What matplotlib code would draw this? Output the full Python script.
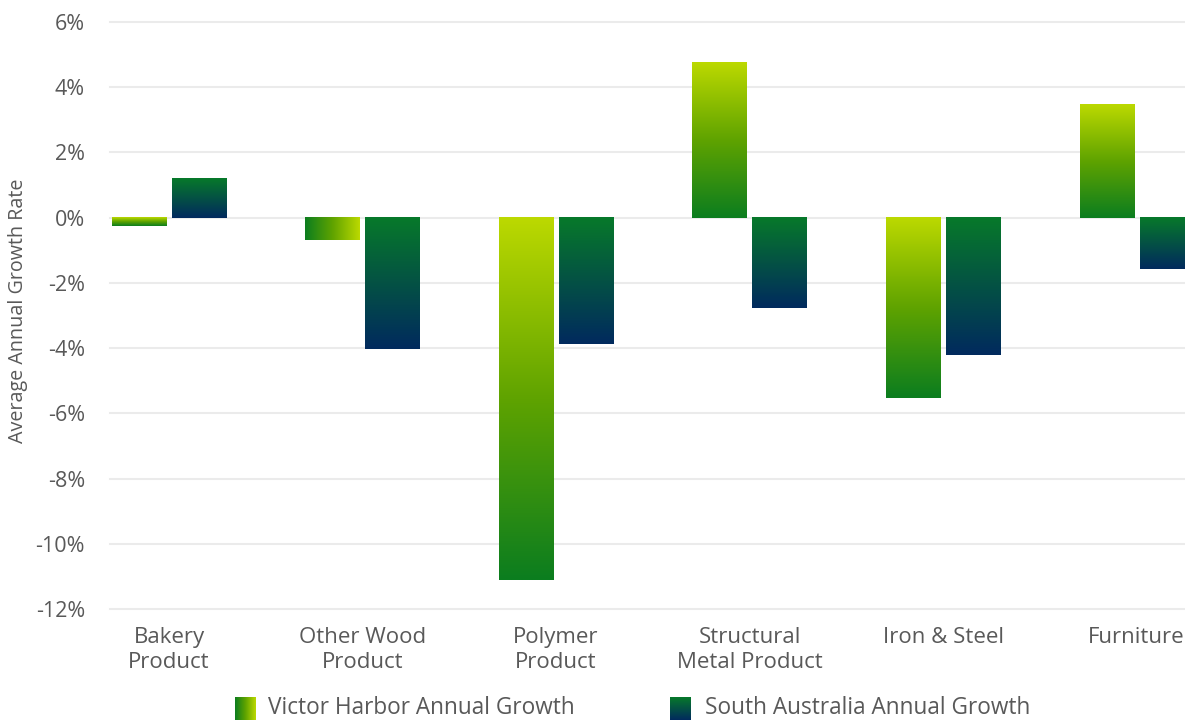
import numpy as np
import matplotlib
matplotlib.use("Agg")
import matplotlib.pyplot as plt
from matplotlib.colors import LinearSegmentedColormap

plt.rcParams['font.family'] = ['Open Sans', 'DejaVu Sans']

categories = ["Bakery\nProduct", "Other Wood\nProduct", "Polymer\nProduct",
              "Structural\nMetal Product", "Iron & Steel", "Furniture"]
victor_harbor = [-0.27, -0.70, -11.12, 4.77, -5.52, 3.48]
south_australia = [1.22, -4.02, -3.87, -2.76, -4.22, -1.57]
series_names = ["Victor Harbor Annual Growth", "South Australia Annual Growth"]
y_ticks = [-12, -10, -8, -6, -4, -2, 0, 2, 4, 6]

TEXT = "#595959"
vh_cmap = LinearSegmentedColormap.from_list("vh", ["#0b7d1f", "#5fa300", "#bcd900"])
sa_cmap = LinearSegmentedColormap.from_list("sa", ["#012a5e", "#07792a"])

fig = plt.figure(figsize=(11.85, 7.2), dpi=100)
ax = fig.add_axes([110 / 1185, 1 - 609 / 720, 1 - 110 / 1185, (609 - 22) / 720])

x = np.arange(len(categories))
width = 0.28
offset = 0.155

grad_v = np.linspace(0, 1, 256).reshape(-1, 1)   # bottom -> top
grad_h = np.linspace(0, 1, 256).reshape(1, -1)   # left -> right


def gradient_bars(xpos, values, cmap, horizontal_idx=()):
    bars = ax.bar(xpos, values, width, color="none", edgecolor="none", zorder=3)
    for i, b in enumerate(bars):
        x0, y0 = b.get_x(), b.get_y()
        w, h = b.get_width(), b.get_height()
        y_lo, y_hi = min(y0, y0 + h), max(y0, y0 + h)
        g = grad_h if i in horizontal_idx else grad_v
        ax.imshow(g, cmap=cmap, origin="lower", aspect="auto",
                  extent=(x0, x0 + w, y_lo, y_hi), zorder=3,
                  interpolation="bilinear", clip_on=False)
    return bars


gradient_bars(x - offset, victor_harbor, vh_cmap, horizontal_idx=(1,))
gradient_bars(x + offset, south_australia, sa_cmap)

ax.set_xlim(-0.305, 5.25)
ax.set_ylim(-12, 6)
ax.set_yticks(y_ticks)
ax.set_yticklabels([f"{t}%" for t in y_ticks])
ax.set_xticks(x)
ax.set_xticklabels(categories, linespacing=1.25)
ax.tick_params(axis="both", length=0, colors=TEXT)
ax.tick_params(axis="y", pad=18, labelsize=15.5)
ax.tick_params(axis="x", pad=13, labelsize=16)
for s in ax.spines.values():
    s.set_visible(False)
ax.set_axisbelow(True)
ax.yaxis.grid(True, color="#ebebeb", linewidth=1.5)
for gl in ax.get_ygridlines():
    gl.set_clip_on(False)

fig.text(18 / 1185, 1 - 311 / 720, "Average Annual Growth Rate", rotation=90,
         ha="center", va="center", color=TEXT, fontsize=14.2)

# Legend along the bottom edge
legend_items = [(235, 268, vh_cmap, grad_h, series_names[0]),
                (670, 705, sa_cmap, grad_v, series_names[1])]
for mx, tx, cmap, g, label in legend_items:
    lax = fig.add_axes([mx / 1185, 0, 21 / 1185, 23 / 720])
    lax.imshow(g, cmap=cmap, origin="lower", aspect="auto",
               interpolation="bilinear")
    lax.axis("off")
    fig.text(tx / 1185, 1 - 708 / 720, label, ha="left", va="center",
             color=TEXT, fontsize=16.3)

fig.savefig("out.png", dpi=100)
